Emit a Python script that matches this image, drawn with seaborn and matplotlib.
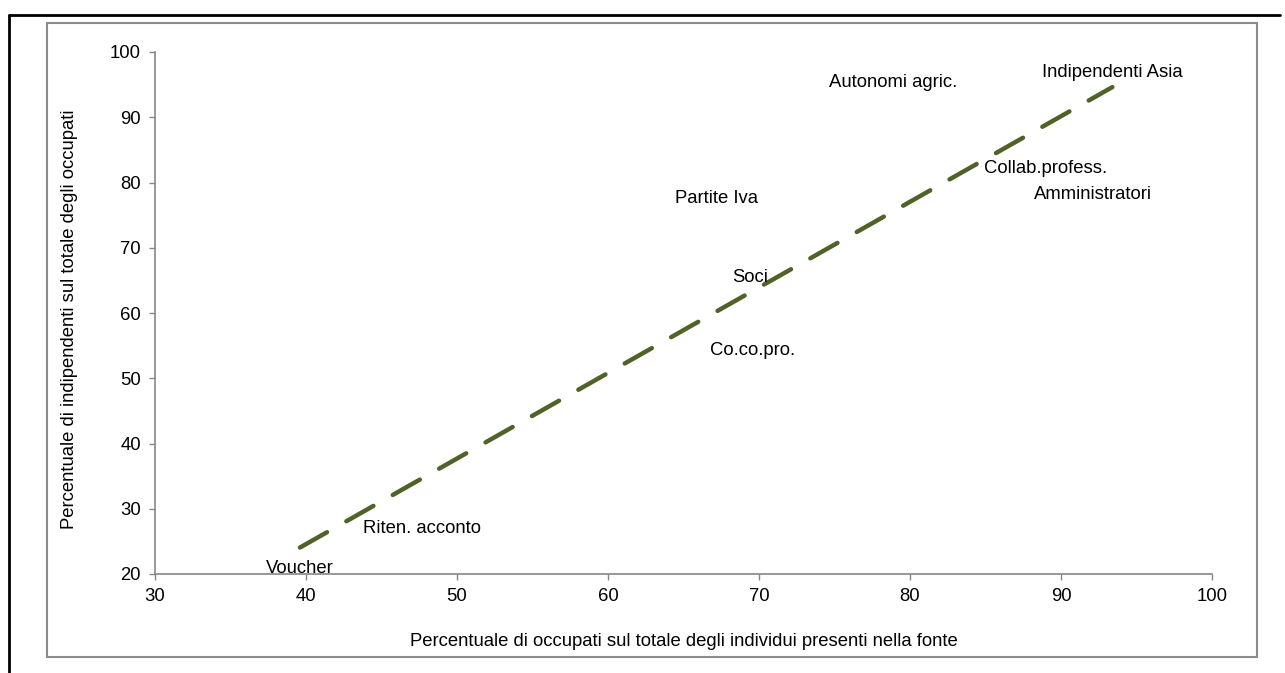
import matplotlib
matplotlib.use("Agg")
import matplotlib.pyplot as plt
import seaborn as sns
import pandas as pd
from matplotlib.lines import Line2D

# ---- data ----
categories = ["Voucher", "Riten. acconto", "Co.co.pro.", "Soci", "Partite Iva",
              "Autonomi agric.", "Indipendenti Asia", "Collab.profess.", "Amministratori"]
occupati = [39.6, 47.7, 69.6, 69.4, 67.2, 78.9, 93.4, 89.0, 92.1]
indipendenti = [20.8, 26.9, 54.3, 65.5, 77.5, 95.4, 96.8, 82.2, 78.1]
x_ticks = [30, 40, 50, 60, 70, 80, 90, 100]
y_ticks = [20, 30, 40, 50, 60, 70, 80, 90, 100]
x_label = "Percentuale di occupati sul totale degli individui presenti nella fonte"
y_label = "Percentuale di indipendenti sul totale degli occupati"

df = pd.DataFrame({"cat": categories, "x": occupati, "y": indipendenti})

sns.set_theme(style="white")
plt.rcParams["font.family"] = ["Liberation Sans", "DejaVu Sans"]

FS = 13.3
W, H = 1285, 673
fig = plt.figure(figsize=(W / 100, H / 100), dpi=100)
ax = fig.add_axes([155 / W, 1 - 574 / H, (1212 - 155) / W, (574 - 52) / H])

sns.regplot(data=df, x="x", y="y", ax=ax, scatter=False, ci=None, truncate=True,
            line_kws=dict(color="#4F6228", lw=3.2, dashes=(7, 5.0),
                          dash_capstyle="round"))

for c, xv, yv in zip(categories, occupati, indipendenti):
    ax.text(xv, yv, c, ha="center", va="center", fontsize=FS, color="#000000")

ax.set_xlim(30, 100)
ax.set_ylim(20, 100)
ax.set_xticks(x_ticks)
ax.set_yticks(y_ticks)
ax.tick_params(axis="both", labelsize=FS, colors="#000000", length=4,
               width=1, direction="out", color="#868686", left=True, bottom=True)
ax.tick_params(axis="x", pad=6)
ax.tick_params(axis="y", pad=6)
for s in ["top", "right"]:
    ax.spines[s].set_visible(False)
for s in ["left", "bottom"]:
    ax.spines[s].set_color("#868686")
    ax.spines[s].set_linewidth(1.2)
ax.grid(False)

ax.set_xlabel(x_label, fontsize=FS, color="#000000")
ax.set_ylabel(y_label, fontsize=FS, color="#000000")
ax.xaxis.set_label_coords((684 - 155) / (1212 - 155), (574 - 633) / (574 - 52))
ax.yaxis.set_label_coords((78 - 155) / (1212 - 155), (574 - 319) / (574 - 52))

# inner gray chart-area frame
fig.add_artist(plt.Rectangle((47 / W, 1 - 657 / H), (1257 - 47) / W, (657 - 23) / H,
                             fill=False, edgecolor="#8C8C8C", lw=1.5,
                             transform=fig.transFigure))
# outer black partial frame (top and left)
fig.add_artist(Line2D([9 / W, 1280 / W], [1 - 15 / H, 1 - 15 / H], color="black",
                      lw=2, transform=fig.transFigure))
fig.add_artist(Line2D([9 / W, 9 / W], [1 - 15 / H, 0], color="black",
                      lw=2, transform=fig.transFigure))

fig.savefig("out.png", dpi=100, facecolor="white")
